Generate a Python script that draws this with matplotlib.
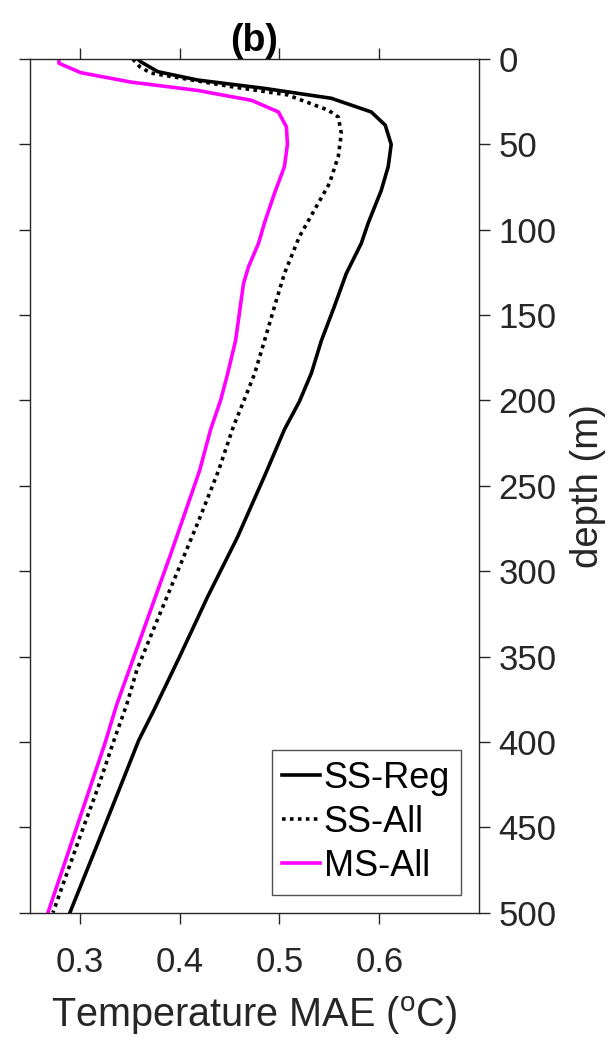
import matplotlib
matplotlib.use("Agg")
import matplotlib.pyplot as plt

plt.rcParams['font.family'] = ['Liberation Sans', 'DejaVu Sans']
plt.rcParams['mathtext.fontset'] = 'custom'
plt.rcParams['mathtext.rm'] = 'Liberation Sans'
plt.rcParams['mathtext.default'] = 'regular'

# SS-Reg (black solid)
ss_reg_depth = [0, 1.6, 7.4, 12.3, 17.2, 23, 31, 38.7, 50, 63, 77, 96, 108, 125.6, 145, 165,
                184, 200.6, 217, 243, 280, 315, 350, 381.6, 399, 422.6, 457.8, 500]
ss_reg_mae = [0.358, 0.361, 0.378, 0.418, 0.485, 0.552, 0.592, 0.606, 0.612, 0.609, 0.602,
              0.589, 0.582, 0.567, 0.555, 0.542, 0.532, 0.520, 0.505, 0.486, 0.458, 0.428,
              0.400, 0.374, 0.359, 0.343, 0.319, 0.290]

# SS-All (black dotted)
ss_all_depth = [0, 4.5, 8.2, 16.2, 21, 30, 34, 43.6, 57, 73, 88.5, 104, 125.6, 145, 165,
                184.5, 200.6, 215, 241, 270.5, 300, 330.8, 358, 378, 401, 427, 454, 500]
ss_all_mae = [0.353, 0.360, 0.371, 0.452, 0.508, 0.549, 0.559, 0.562, 0.559, 0.550, 0.535,
              0.520, 0.505, 0.495, 0.485, 0.475, 0.464, 0.454, 0.439, 0.419, 0.398, 0.376,
              0.357, 0.347, 0.333, 0.318, 0.301, 0.273]

# MS-All (magenta)
ms_all_depth = [0, 2.5, 8, 13.5, 18.4, 24.2, 31, 39.8, 50, 63, 78.7, 96, 108, 121.7, 131.5,
                165, 184.5, 200, 217, 241, 290, 339, 378, 401, 434, 500]
ms_all_mae = [0.279, 0.279, 0.301, 0.351, 0.418, 0.472, 0.499, 0.507, 0.508, 0.505, 0.495,
              0.485, 0.479, 0.469, 0.464, 0.456, 0.448, 0.441, 0.431, 0.420, 0.391, 0.361,
              0.337, 0.325, 0.306, 0.268]

xticks = [0.3, 0.4, 0.5, 0.6]
yticks = list(range(0, 501, 50))

dark = '#262626'

fig = plt.figure(figsize=(6.16, 10.41), dpi=100)
ax = fig.add_axes([0.0487, 0.1233, 0.7289, 0.82])

ax.plot(ss_reg_mae, ss_reg_depth, color='black', lw=2.6, label='SS-Reg')
ax.plot(ss_all_mae, ss_all_depth, color='black', lw=2.6, linestyle=(0, (1, 1.2)),
        label='SS-All')
ax.plot(ms_all_mae, ms_all_depth, color='#ff00ff', lw=2.6, label='MS-All')

ax.set_xlim(0.25, 0.70)
ax.set_ylim(500, 0)
ax.set_xticks(xticks)
ax.set_yticks(yticks)

for s in ax.spines.values():
    s.set_color(dark)
    s.set_linewidth(1.0)

ax.tick_params(direction='out', length=8, width=1.0, color=dark, labelcolor=dark,
               labelsize=25, left=True, right=True, top=True, bottom=True,
               labelleft=False, labelright=True, labeltop=False, labelbottom=True)
ax.tick_params(axis='x', pad=16)
ax.tick_params(axis='y', pad=6)

ax.yaxis.set_label_position('right')
ax.set_ylabel('depth (m)', fontsize=27.5, color=dark, labelpad=10)
ax.set_xlabel('Temperature MAE ($^{o}$C)', fontsize=28.5, color=dark, labelpad=11)
ax.set_title('(b)', fontsize=27, fontweight='bold', pad=6, color='black')

leg = ax.legend(loc='lower right', fontsize=26, frameon=True, fancybox=False,
                handlelength=1.05, handletextpad=0.1, labelspacing=0.25,
                borderpad=0.3, borderaxespad=0.5)
leg.get_frame().set_edgecolor(dark)
leg.get_frame().set_linewidth(1.0)

fig.savefig('out.png', dpi=100)
